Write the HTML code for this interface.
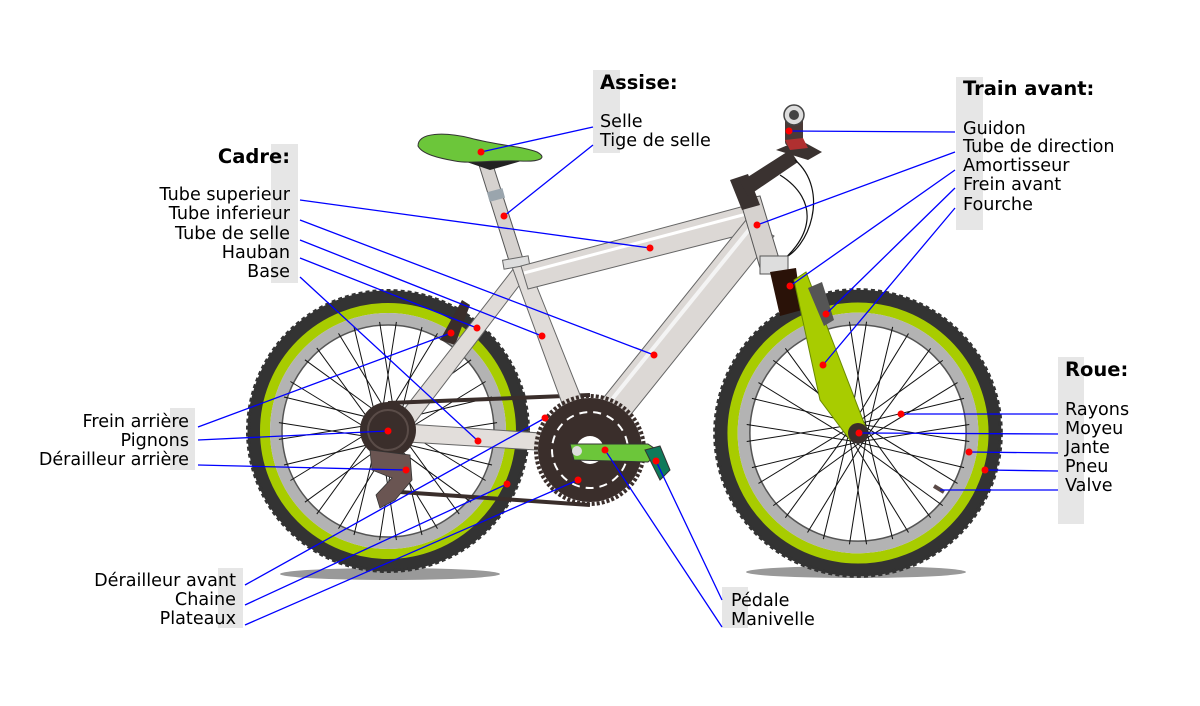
<!DOCTYPE html>
<html><head><meta charset="utf-8"><style>
html,body{margin:0;padding:0;background:#fff}
svg{display:block}
text{font-family:"DejaVu Sans","Liberation Sans",sans-serif;font-size:17.6px;fill:#000}
.h{font-weight:bold;font-size:19.5px}
.l{stroke:#0000ff;stroke-width:1.3;fill:none}
.d{fill:#ff0000}
</style></head><body>
<svg width="1200" height="706" viewBox="0 0 1200 706" xmlns="http://www.w3.org/2000/svg">
<defs>
<g id="sp"><line x1="0" y1="-9" x2="104" y2="-34" stroke="#111" stroke-width="1"/><line x1="0" y1="9" x2="104" y2="34" stroke="#111" stroke-width="1"/></g>
<g id="spokes">
<use href="#sp"/><use href="#sp" transform="rotate(22.5)"/><use href="#sp" transform="rotate(45)"/><use href="#sp" transform="rotate(67.5)"/>
<use href="#sp" transform="rotate(90)"/><use href="#sp" transform="rotate(112.5)"/><use href="#sp" transform="rotate(135)"/><use href="#sp" transform="rotate(157.5)"/>
<use href="#sp" transform="rotate(180)"/><use href="#sp" transform="rotate(202.5)"/><use href="#sp" transform="rotate(225)"/><use href="#sp" transform="rotate(247.5)"/>
<use href="#sp" transform="rotate(270)"/><use href="#sp" transform="rotate(292.5)"/><use href="#sp" transform="rotate(315)"/><use href="#sp" transform="rotate(337.5)"/>
</g>
<g id="wheel">
<circle r="134" fill="none" stroke="#333" stroke-width="13"/>
<circle r="140" fill="none" stroke="#333" stroke-width="4" stroke-dasharray="4 3"/>
<circle r="123" fill="none" stroke="#a8cc00" stroke-width="10"/>
<circle r="112" fill="none" stroke="#b3b3b3" stroke-width="12"/>
<circle r="106" fill="none" stroke="#555" stroke-width="1.5"/>
<use href="#spokes"/>
</g>
</defs>

<ellipse cx="390" cy="574" rx="110" ry="6" fill="#999"/>
<ellipse cx="856" cy="572" rx="110" ry="6" fill="#999"/>

<rect x="593" y="70" width="27" height="83" fill="#e6e6e6"/>
<rect x="271" y="144" width="27" height="139" fill="#e6e6e6"/>
<rect x="956" y="77" width="27" height="153" fill="#e6e6e6"/>
<rect x="1058" y="357" width="26" height="167" fill="#e6e6e6"/>
<rect x="170" y="408" width="25" height="62" fill="#e6e6e6"/>
<rect x="218" y="568" width="25" height="60" fill="#e6e6e6"/>
<rect x="722" y="587" width="26" height="41" fill="#e6e6e6"/>

<use href="#wheel" transform="translate(388,431)"/>
<use href="#wheel" transform="translate(858,433) scale(1.02)"/>

<path d="M440 340 L462 300 L470 305 L455 345 Z" fill="#3a2e2b"/>
<path d="M479 165 L493 165 L524 262 L510 264 Z" fill="#d6d2cf" stroke="#555" stroke-width="1"/>
<rect x="488" y="190" width="16" height="10" fill="#9aa5ad" transform="rotate(-15 496 195)"/>
<path d="M514 268 L528 274 L406 434 L391 426 Z" fill="#e0dcd9" stroke="#666" stroke-width="1"/>
<path d="M392 423 L585 436 L585 453 L392 441 Z" fill="#e2dedb" stroke="#666" stroke-width="1"/>
<path d="M388 403 L590 395 M400 492 L590 505" stroke="#3a2e2b" stroke-width="4" fill="none"/>
<path d="M511 264 L527 262 L598 440 L578 447 Z" fill="#e0dcd9" stroke="#666" stroke-width="1"/>
<rect x="503" y="258" width="26" height="9" fill="#ddd" stroke="#666" transform="rotate(-10 516 262)"/>
<path d="M521 266 L752 204 L760 230 L528 289 Z" fill="#dcd8d5" stroke="#666" stroke-width="1"/>
<path d="M524 273 L754 212" stroke="#fff" stroke-width="3"/>
<path d="M746 220 L774 236 L604 448 L576 432 Z" fill="#dcd8d5" stroke="#666" stroke-width="1"/>
<path d="M752 226 L584 434" stroke="#f4f4f4" stroke-width="4"/>
<path d="M740 200 L760 196 L780 262 L760 268 Z" fill="#d6d2cf" stroke="#555" stroke-width="1"/>
<path d="M730 180 L748 174 L760 205 L742 210 Z" fill="#3a3230"/>
<path d="M740 182 L790 150 L798 162 L748 196 Z" fill="#3a3230"/>
<path d="M776 150 L800 140 L822 152 L808 160 Z" fill="#3a3230"/>
<rect x="785" y="112" width="18" height="34" rx="4" fill="#4a3a37"/>
<circle cx="794" cy="115" r="10" fill="#ddd" stroke="#444" stroke-width="1.5"/>
<circle cx="794" cy="115" r="5" fill="#444"/>
<path d="M785 140 L803 138 L808 148 L790 150 Z" fill="#b03030"/>
<path d="M795 160 C830 190 810 250 780 260 M780 175 C820 200 815 240 770 270" stroke="#111" fill="none" stroke-width="1.2"/>
<rect x="760" y="256" width="28" height="18" fill="#ddd" stroke="#555"/>
<path d="M770 272 L796 268 L802 310 L780 316 Z" fill="#2a1208"/>
<path d="M794 280 L806 272 L866 428 L850 440 L820 400 Z" fill="#a8cc00" stroke="#6a8a00" stroke-width="1"/>
<path d="M808 288 L822 282 L834 320 L824 326 Z" fill="#555"/>
<circle cx="858" cy="433" r="10" fill="#3a2e2b"/>
<path d="M934 486 L944 492" stroke="#5a4a47" stroke-width="4"/>

<circle cx="388" cy="430" r="28" fill="#3a2e2b"/>
<circle cx="388" cy="430" r="20" fill="none" stroke="#5a4c48" stroke-width="2"/>
<path d="M370 450 L410 455 L412 480 L395 500 L380 508 L376 495 L392 478 L372 470 Z" fill="#6a5552" stroke="#333" stroke-width="0.8"/>
<circle cx="590" cy="450" r="52" fill="#3a2e2b"/>
<circle cx="590" cy="450" r="54" fill="none" stroke="#3a2e2b" stroke-width="4" stroke-dasharray="3 2"/>
<circle cx="590" cy="450" r="38" fill="none" stroke="#fff" stroke-width="2" stroke-dasharray="8 6"/>
<circle cx="590" cy="450" r="14" fill="#fff"/>
<path d="M570 444 L648 444 L660 452 L648 462 L574 460 Z" fill="#6cc63a" stroke="#333" stroke-width="1"/>
<circle cx="577" cy="451" r="5" fill="#ddd"/>
<path d="M645 450 L660 446 L670 470 L660 480 Z" fill="#0e7a5a" stroke="#333"/>
<path d="M455 158 L490 170 L525 160 Z" fill="#222"/>
<path d="M418 146 C418 132 445 132 470 138 C500 146 522 146 537 152 C548 158 540 162 520 161 C490 160 470 164 455 161 C438 158 422 154 418 146 Z" fill="#6cc63a" stroke="#333" stroke-width="1"/>

<path class="l" d="M593 127 L481 152 M593 145 L504 216
M300 200 L650 248 M300 220 L654 355 M300 240 L542 336 M300 258 L477 328 M300 277 L478 441
M198 427 L451 333 M198 440 L388 431 M198 465 L406 470
M245 585 L545 418 M245 605 L507 484 M245 625 L578 480
M722 600 L656 461 M722 627 L605 450
M955 132 L789 131 M955 152 L757 225 M955 170 L790 286 M955 188 L826 314 M955 208 L823 365
M1058 414 L901 414 M1058 434 L859 433 M1058 453 L969 452 M1058 471 L985 470 M1058 490 L940 490"/>
<g class="d">
<circle cx="481" cy="152" r="3.5"/><circle cx="504" cy="216" r="3.5"/>
<circle cx="650" cy="248" r="3.5"/><circle cx="654" cy="355" r="3.5"/><circle cx="542" cy="336" r="3.5"/><circle cx="477" cy="328" r="3.5"/><circle cx="478" cy="441" r="3.5"/>
<circle cx="451" cy="333" r="3.5"/><circle cx="388" cy="431" r="3.5"/><circle cx="406" cy="470" r="3.5"/>
<circle cx="545" cy="418" r="3.5"/><circle cx="507" cy="484" r="3.5"/><circle cx="578" cy="480" r="3.5"/>
<circle cx="656" cy="461" r="3.5"/><circle cx="605" cy="450" r="3.5"/>
<circle cx="789" cy="131" r="3.5"/><circle cx="757" cy="225" r="3.5"/><circle cx="790" cy="286" r="3.5"/><circle cx="826" cy="314" r="3.5"/><circle cx="823" cy="365" r="3.5"/>
<circle cx="901" cy="414" r="3.5"/><circle cx="859" cy="433" r="3.5"/><circle cx="969" cy="452" r="3.5"/><circle cx="985" cy="470" r="3.5"/>
</g>

<text class="h" x="600" y="89">Assise:</text>
<text x="600" y="127">Selle</text>
<text x="600" y="146">Tige de selle</text>

<g text-anchor="end">
<text class="h" x="290" y="163">Cadre:</text>
<text x="290" y="200">Tube superieur</text>
<text x="290" y="219">Tube inferieur</text>
<text x="290" y="239">Tube de selle</text>
<text x="290" y="258">Hauban</text>
<text x="290" y="277">Base</text>
<text x="189" y="427">Frein arrière</text>
<text x="189" y="446">Pignons</text>
<text x="189" y="465">Dérailleur arrière</text>
<text x="236" y="586">Dérailleur avant</text>
<text x="236" y="605">Chaine</text>
<text x="236" y="624">Plateaux</text>
</g>

<text class="h" x="963" y="95">Train avant:</text>
<text x="963" y="134">Guidon</text>
<text x="963" y="152">Tube de direction</text>
<text x="963" y="171">Amortisseur</text>
<text x="963" y="190">Frein avant</text>
<text x="963" y="210">Fourche</text>

<text class="h" x="1065" y="376">Roue:</text>
<text x="1065" y="415">Rayons</text>
<text x="1065" y="434">Moyeu</text>
<text x="1065" y="453">Jante</text>
<text x="1065" y="472">Pneu</text>
<text x="1065" y="491">Valve</text>

<text x="731" y="606">Pédale</text>
<text x="731" y="625">Manivelle</text>
</svg>
</body></html>
